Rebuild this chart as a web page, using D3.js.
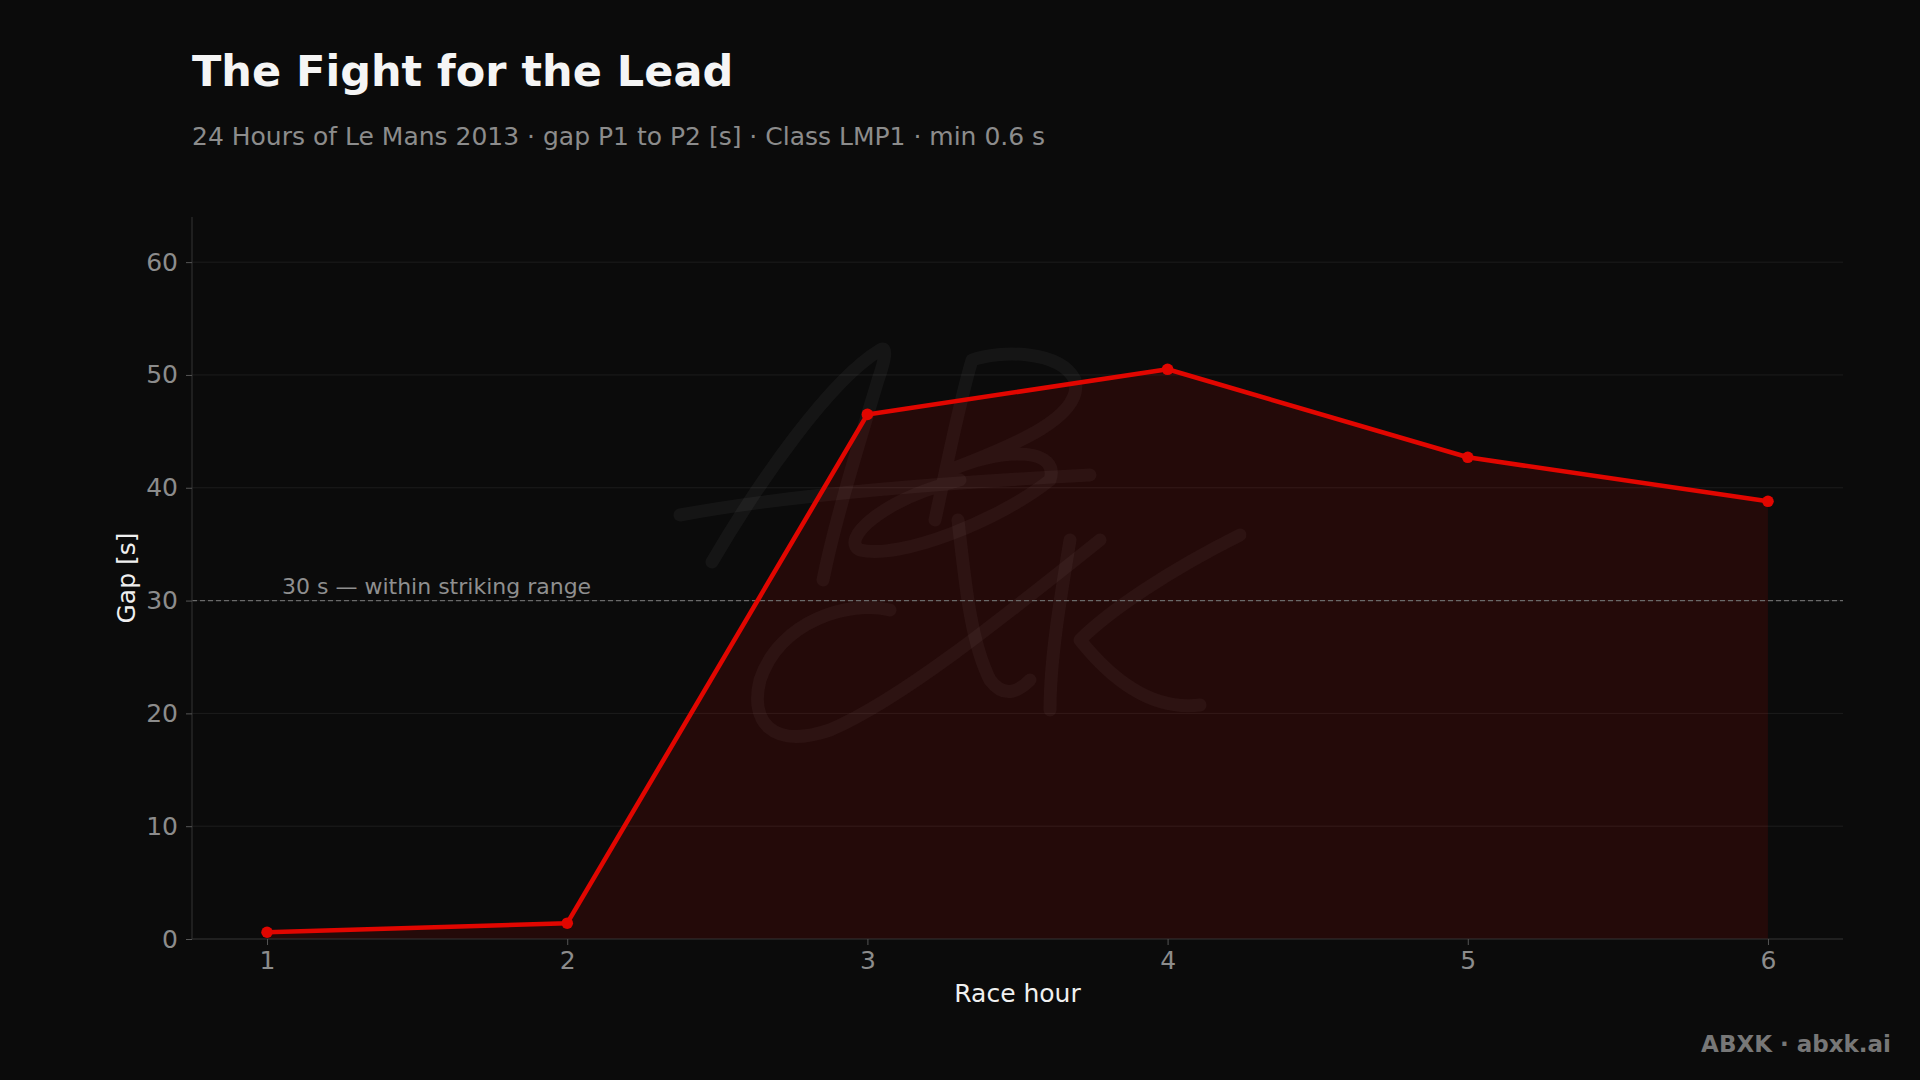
<!DOCTYPE html>
<html><head><meta charset="utf-8">
<script src="https://cdn.jsdelivr.net/npm/d3@7"></script>
<style>
html,body{margin:0;padding:0;background:#0b0b0b;}
svg{display:block;font-family:"DejaVu Sans",sans-serif;}
</style></head>
<body>
<svg id="chart" width="1920" height="1080"></svg>
<script>
const hours = [1, 2, 3, 4, 5, 6];
const gaps = [0.6, 1.4, 46.5, 50.5, 42.7, 38.8];
const yTicks = [0, 10, 20, 30, 40, 50, 60];
const xTicks = [1, 2, 3, 4, 5, 6];
const threshold = 30;
const thresholdLabel = "30 s — within striking range";
const title = "The Fight for the Lead";
const subtitle = "24 Hours of Le Mans 2013 · gap P1 to P2 [s] · Class LMP1 · min 0.6 s";

const svg = d3.select("#chart");
const W = 1920, H = 1080;
const m = {left: 192, right: 1843, top: 217, bottom: 939};
const red = "#e10600";

svg.append("rect").attr("width", W).attr("height", H).attr("fill", "#0b0b0b");

const x = d3.scaleLinear().domain([0.75, 6.25]).range([m.left, m.right]);
const y = d3.scaleLinear().domain([0, 64]).range([m.bottom, m.top]);

// grid
svg.append("g").selectAll("line").data(yTicks).join("line")
  .attr("x1", m.left).attr("x2", m.right)
  .attr("y1", d => y(d)).attr("y2", d => y(d))
  .attr("stroke", "#1d1d1d").attr("stroke-width", 1);

// watermark (decorative handwriting)
const wm = svg.append("g").attr("fill", "none").attr("stroke", "#ffffff").attr("stroke-opacity", 0.045)
  .attr("stroke-width", 13).attr("stroke-linecap", "round").attr("stroke-linejoin", "round");
[
  "M712,562 C760,480 830,380 880,350 C888,345 885,360 878,380 C860,440 835,520 823,580",
  "M680,515 C760,500 900,485 1090,475",
  "M935,520 C950,450 960,400 972,360 C1000,350 1060,350 1075,380 C1085,420 1000,450 950,470 C1010,445 1060,450 1050,480 C1000,520 900,560 860,550 C840,540 880,500 960,480",
  "M958,520 C965,580 970,640 990,680 C1005,700 1020,690 1030,680",
  "M1100,540 C1000,620 900,700 830,730 C770,750 750,720 760,680 C780,620 850,600 890,610",
  "M1070,540 C1060,600 1050,660 1050,710",
  "M1240,535 C1170,570 1110,610 1080,640 C1120,690 1160,710 1200,705"
].forEach(p => wm.append("path").attr("d", p));

// area + line
const area = d3.area().x((d, i) => x(hours[i])).y0(y(0)).y1(d => y(d));
svg.append("path").datum(gaps).attr("d", area).attr("fill", red).attr("fill-opacity", 0.12);

// threshold line
svg.append("line").attr("x1", m.left).attr("x2", m.right)
  .attr("y1", y(threshold)).attr("y2", y(threshold))
  .attr("stroke", "#6a6a6a").attr("stroke-width", 1.2).attr("stroke-dasharray", "5,3");
svg.append("text").attr("x", 282).attr("y", y(threshold) - 7)
  .attr("fill", "#8f8f8f").attr("font-size", 22).text(thresholdLabel);

const line = d3.line().x((d, i) => x(hours[i])).y(d => y(d));
svg.append("path").datum(gaps).attr("d", line).attr("fill", "none")
  .attr("stroke", red).attr("stroke-width", 4.6).attr("stroke-linejoin", "round");
svg.append("g").selectAll("circle").data(gaps).join("circle")
  .attr("cx", (d, i) => x(hours[i])).attr("cy", d => y(d)).attr("r", 5.8).attr("fill", red);

// axes
const xAxis = svg.append("g").attr("transform", `translate(0,${m.bottom})`)
  .call(d3.axisBottom(x).tickValues(xTicks).tickSize(6).tickPadding(6).tickFormat(d3.format("d")));
const yAxis = svg.append("g").attr("transform", `translate(${m.left},0)`)
  .call(d3.axisLeft(y).tickValues(yTicks).tickSize(6).tickPadding(8).tickFormat(d3.format("d")));
[xAxis, yAxis].forEach(a => {
  a.select(".domain").attr("stroke", "#2e2e2e").attr("stroke-width", 1.2);
  a.selectAll(".tick line").attr("stroke", "#555");
  a.selectAll(".tick text").attr("fill", "#8c8c8c").attr("font-size", 25)
    .attr("font-family", "DejaVu Sans, sans-serif");
});
xAxis.select(".domain").attr("d", `M${m.left},0H${m.right}`);
yAxis.select(".domain").attr("d", `M0,${m.top}V${m.bottom}`);

// axis labels
svg.append("text").attr("x", (m.left + m.right) / 2).attr("y", 1002)
  .attr("text-anchor", "middle").attr("fill", "#f0f0f0").attr("font-size", 25).text("Race hour");
svg.append("text").attr("transform", `translate(135,${(m.top + m.bottom) / 2}) rotate(-90)`)
  .attr("text-anchor", "middle").attr("fill", "#f0f0f0").attr("font-size", 25).text("Gap [s]");

// titles
svg.append("text").attr("x", 192).attr("y", 86).attr("fill", "#f5f5f5")
  .attr("font-size", 43).attr("font-weight", "bold").text(title);
svg.append("text").attr("x", 192).attr("y", 145).attr("fill", "#8c8c8c")
  .attr("font-size", 25).text(subtitle);

// footer
svg.append("text").attr("x", 1891).attr("y", 1052).attr("text-anchor", "end")
  .attr("fill", "#777").attr("font-size", 23).attr("font-weight", "bold").text("ABXK · abxk.ai");
</script>
</body></html>
